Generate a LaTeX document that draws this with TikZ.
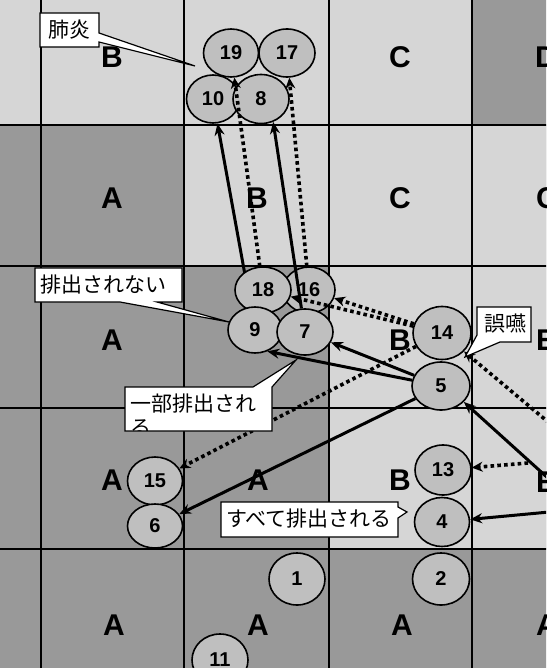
\documentclass[tikz,border=0pt]{standalone}
\usepackage{fontspec}
\setmainfont{Liberation Sans}
\newfontfamily\jp{Noto Sans CJK JP}
\usetikzlibrary{arrows.meta,shapes.geometric}
\pgfdeclarelayer{bg}
\pgfdeclarelayer{low}
\pgfdeclarelayer{arr}
\pgfdeclarelayer{front}
\pgfsetlayers{bg,low,arr,main,front}
\definecolor{lightc}{gray}{0.84}
\definecolor{darkc}{gray}{0.6}
\definecolor{circc}{gray}{0.75}
\tikzset{
  gridline/.style={line width=2.2pt, black},
  cell/.style={font=\fontsize{30}{30}\selectfont\bfseries, inner sep=0},
  circ/.style={ellipse, draw, line width=1.6pt, fill=circc, inner sep=0,
    font=\fontsize{20}{20}\selectfont\bfseries},
  dotarrow/.style={line width=3.6pt, dash pattern=on 3.6pt off 3.2pt,
    -{Stealth[length=11pt,width=10pt]}},
  solarrow/.style={line width=3pt, -{Stealth[length=12pt,width=10pt]}},
  callout/.style={draw, line width=1.2pt, fill=white, line join=miter},
  jptext/.style={font=\jp\fontsize{21}{21}\selectfont, inner sep=0}
}
\begin{document}
\begin{tikzpicture}[x=1pt,y=-1pt]
\useasboundingbox (0,0) rectangle (546,668);

% ---------------- background cells ----------------
\begin{pgfonlayer}{bg}
\clip (0,0) rectangle (546,668);
\fill[darkc] (-5,-5) rectangle (551,673);
\fill[lightc] (-5,-5) rectangle (472,125);
\fill[lightc] (184,125) rectangle (551,266);
\fill[lightc] (329,266) rectangle (551,549);
\foreach \xx in {41,184,329,472} \draw[gridline] (\xx,-5) -- (\xx,673);
\foreach \yy in {125,266,408,549} \draw[gridline] (-5,\yy) -- (551,\yy);
% cell letters
\node[cell] (L01) at (112,57) {B};
\node[cell] (L03) at (400,57) {C};
\node[cell] (L04) at (546,57) {D};
\node[cell] (L11) at (112,198) {A};
\node[cell] (L12) at (257,198) {B};
\node[cell] (L13) at (400,198) {C};
\node[cell] (L14) at (547,198) {C};
\node[cell] (L21) at (112,340) {A};
\node[cell] (L23) at (400,340) {B};
\node[cell] (L24) at (546,340) {E};
\node[cell] (L31) at (112,480) {A};
\node[cell] (L32) at (258,480) {A};
\node[cell] (L33) at (400,480) {B};
\node[cell] (L34) at (546,482) {E};
\node[cell] (L41) at (114,625) {A};
\node[cell] (L42) at (258,625) {A};
\node[cell] (L43) at (402,625) {A};
\node[cell] (L44) at (547,625) {A};
\end{pgfonlayer}

% ---------------- circles under the arrows ----------------
\begin{pgfonlayer}{low}
\node[circ, minimum width=52pt, minimum height=46pt] (n16) at (309,290) {16};
\node[circ, minimum width=55pt, minimum height=48pt] (n19) at (231,53) {19};
\node[circ, minimum width=56pt, minimum height=48pt] (n17) at (287,53) {17};
\node[circ, minimum width=53pt, minimum height=48pt] (n10) at (213,99) {10};
\node[circ, minimum width=56pt, minimum height=49pt] (n8) at (261,99) {8};
\end{pgfonlayer}

% ---------------- circles above the arrows ----------------
\node[circ, minimum width=56pt, minimum height=46pt] (n18) at (263,290) {18};
\node[circ, minimum width=54pt, minimum height=46pt] (n9) at (255,330) {9};
\node[circ, minimum width=56pt, minimum height=46pt] (n7) at (305,332) {7};
\node[circ, minimum width=58pt, minimum height=53pt] (n14) at (442,333) {14};
\node[circ, minimum width=58pt, minimum height=48pt] (n5) at (441,386) {5};
\node[circ, minimum width=55pt, minimum height=48pt] (n15) at (155,481) {15};
\node[circ, minimum width=55pt, minimum height=44pt] (n6) at (155,526) {6};
\node[circ, minimum width=56pt, minimum height=50pt] (n13) at (443,470) {13};
\node[circ, minimum width=55pt, minimum height=49pt] (n4) at (442,522) {4};
\node[circ, minimum width=56pt, minimum height=52pt] (n1) at (297,579) {1};
\node[circ, minimum width=57pt, minimum height=52pt] (n2) at (441,579) {2};
\node[circ, minimum width=56pt, minimum height=52pt] (n11) at (220,660) {11};

% free ends of connectors coming from outside the picture
\coordinate (r1) at (560,432);
\coordinate (r2) at (560,489);
\coordinate (r3) at (528,463);
\coordinate (r4) at (560,511);

% ---------------- arrows ----------------
\begin{pgfonlayer}{arr}
\clip (0,0) rectangle (546,668);
\draw[solarrow] (n9) -- (n10);
\draw[solarrow] (n7) -- (n8.-62);
\draw[dotarrow] (n18) -- (n19);
\draw[dotarrow] (n16) -- (n17);
\draw[dotarrow] (n14) -- (n16);
\draw[dotarrow] (n14) -- (n18);
\draw[dotarrow] (n14) -- (n15);
\draw[solarrow] (n5) -- (n7);
\draw[solarrow] (n5) -- (n9.-60);
\draw[solarrow] (n5) -- (n6);
\draw[dotarrow] (r1) -- (n14);
\draw[solarrow] (r2) -- (n5.-35);
\draw[dotarrow] (r3) -- (n13);
\draw[solarrow] (r4) -- (n4);
\end{pgfonlayer}

% ---------------- callouts ----------------
\begin{pgfonlayer}{front}
\coordinate (tipA) at (195,66);
\path[callout] (40,13) -- (99,13) -- (99,33) -- (tipA) -- (99,42) -- (99,47) -- (40,47) -- cycle;
\node[jptext] (tA) at (69.5,30) {肺炎};

\coordinate (tipB) at (229,322);
\path[callout] (35,268) -- (182,268) -- (182,302) -- (157,302) -- (tipB) -- (120,302) -- (35,302) -- cycle;
\node[jptext, anchor=west] (tB) at (40,285) {排出されない};

\coordinate (tipC) at (296,360);
\path[callout] (125,387) -- (253,387) -- (tipC) -- (272,387) -- (272,431) -- (125,431) -- cycle;
\begin{scope}
\clip (125.5,387.5) rectangle (271.5,430.5);
\node[jptext, anchor=west] (tC1) at (130,404) {一部排出され};
\node[jptext, anchor=west] (tC2) at (130,428) {る};
\end{scope}

\coordinate (tipD) at (465,357);
\path[callout] (477,307) -- (531,307) -- (531,342) -- (500,342) -- (tipD) -- (477,335) -- cycle;
\node[jptext] (tD) at (505,324) {誤嚥};

\coordinate (tipE) at (407,512);
\path[callout] (221,502) -- (398,502) -- (398,507) -- (tipE) -- (398,518) -- (398,537) -- (221,537) -- cycle;
\node[jptext, anchor=west] (tE) at (226,519) {すべて排出される};
\end{pgfonlayer}
\end{tikzpicture}
\end{document}
